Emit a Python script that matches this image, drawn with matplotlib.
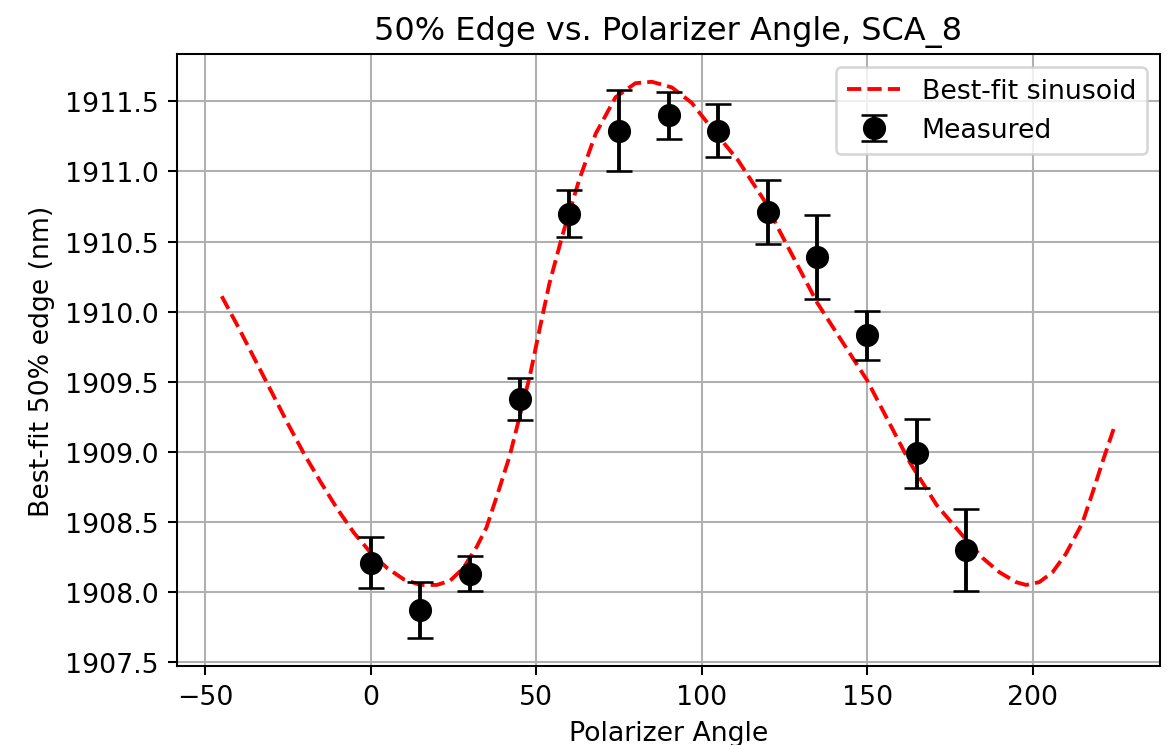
#!/usr/bin/env python
# -*- coding: utf-8 -*-

import matplotlib
matplotlib.use('Agg')
import matplotlib.pyplot as plt

# measured 50% edge per polarizer angle
angles = [0, 15, 30, 45, 60, 75, 90, 105, 120, 135, 150, 165, 180]
edge = [1908.21, 1907.87, 1908.13, 1909.38, 1910.70, 1911.29, 1911.40,
        1911.29, 1910.71, 1910.39, 1909.83, 1908.99, 1908.30]
edge_err = [0.18, 0.20, 0.125, 0.15, 0.17, 0.29, 0.165,
            0.19, 0.23, 0.30, 0.175, 0.245, 0.29]

# best-fit curve
fit_angle = [-45, -40, -35, -30, -25, -20, -15, -10, -5, 0, 5, 10, 15, 20,
             24, 28, 32, 35, 38.5, 42, 45, 48, 51, 54, 58, 63, 68, 74, 80,
             85, 91, 97, 103, 111, 119, 123, 135, 150, 163, 171, 180, 185,
             190, 195, 198, 202, 206, 210, 215, 218, 221, 225]
fit_edge = [1910.11, 1909.89, 1909.66, 1909.43, 1909.20, 1908.98, 1908.78,
            1908.59, 1908.42, 1908.28, 1908.17, 1908.09, 1908.05, 1908.05,
            1908.08, 1908.17, 1908.32, 1908.46, 1908.71, 1908.97, 1909.25,
            1909.53, 1909.87, 1910.20, 1910.55, 1910.94, 1911.27, 1911.53,
            1911.63, 1911.64, 1911.60, 1911.49, 1911.31, 1911.08, 1910.79,
            1910.60, 1910.06, 1909.51, 1908.92, 1908.62, 1908.37, 1908.24,
            1908.14, 1908.07, 1908.05, 1908.07, 1908.14, 1908.27, 1908.49,
            1908.70, 1908.92, 1909.20]


def main():
    plt.rcParams['font.size'] = 10.4

    fig = plt.figure(figsize=(1170 / 185, 746 / 185), dpi=185)
    ax = fig.add_axes([0.1513, 0.1059, 0.8402, 0.8204])

    ax.plot(fit_angle, fit_edge, 'r--', label='Best-fit sinusoid')
    ax.errorbar(angles, edge, yerr=edge_err, fmt='ko', markersize=8,
                capsize=5, label='Measured')

    ax.set_title('50% Edge vs. Polarizer Angle, SCA_8')
    ax.set_xlabel('Polarizer Angle')
    ax.set_ylabel('Best-fit 50% edge (nm)')
    ax.grid(True)
    ax.legend(loc='upper right')

    fig.savefig('out.png', dpi=185)


if __name__ == "__main__":
    main()
